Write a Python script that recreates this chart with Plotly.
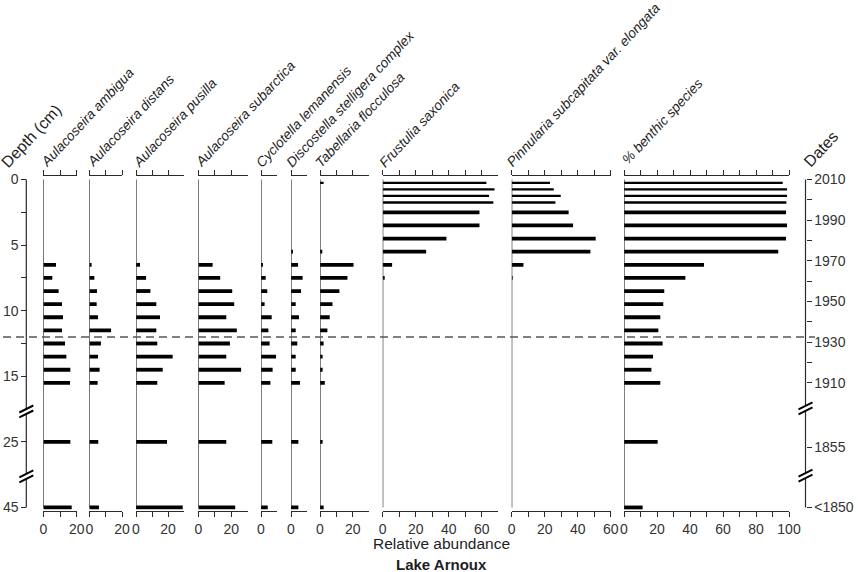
import plotly.graph_objects as go

# sample depths (cm) and diatom relative abundances (%)
depth = [0.25, 0.75, 1.25, 1.75, 2.5, 3.5, 4.5, 5.5, 6.5, 7.5,
         8.5, 9.5, 10.5, 11.5, 12.5, 13.5, 14.5, 15.5, 25, 45]

ambigua = [0, 0, 0, 0, 0, 0, 0, 0, 7.6, 5.4,
           9.2, 11.2, 11.8, 11.2, 13.0, 13.8, 16.2, 16.0, 16.2, 17.0]
distans = [0, 0, 0, 0, 0, 0, 0, 0, 1.4, 3.1,
           4.7, 4.5, 5.3, 13.3, 7.1, 5.3, 6.3, 5.1, 5.5, 5.9]
pusilla = [0, 0, 0, 0, 0, 0, 0, 0, 2.5, 6.3,
           9.0, 12.7, 15.0, 12.7, 13.3, 22.9, 16.7, 13.3, 19.4, 29.2]
subarctica = [0, 0, 0, 0, 0, 0, 0, 0, 8.7, 13.3,
              20.6, 21.8, 17.0, 23.4, 19.2, 17.0, 26.0, 16.0, 17.0, 22.4]
cyclotella = [0, 0, 0, 0, 0, 0, 0, 0, 1.0, 3.0,
              4.0, 2.3, 6.8, 4.7, 5.5, 9.6, 7.4, 6.0, 7.2, 4.3]
discostella = [0, 0, 0, 0, 0, 0, 0, 1.0, 4.5, 7.4,
               6.4, 3.0, 5.1, 3.0, 4.0, 3.0, 3.0, 5.7, 4.7, 4.7]
tabellaria = [2.2, 0, 0, 0, 0, 0, 0, 1.4, 20.4, 16.7,
              11.8, 7.6, 5.9, 4.5, 2.2, 1.6, 1.6, 2.9, 1.6, 2.2]
frustulia = [62.8, 67.7, 64.4, 67.0, 58.6, 58.6, 38.6, 26.3, 5.7, 1.2,
             0, 0, 0, 0, 0, 0, 0, 0, 0, 0]
pinnularia = [23.2, 25.5, 29.7, 26.5, 34.5, 37.2, 50.9, 47.7, 7.1, 0.6,
              0, 0, 0, 0, 0, 0, 0, 0, 0, 0]
benthic = [96.2, 98.8, 98.8, 98.4, 98.2, 98.8, 98.2, 93.5, 48.5, 37.2,
           24.4, 23.8, 22.0, 20.8, 23.4, 17.6, 16.6, 22.0, 20.4, 11.3]

titles = ["Aulacoseira ambigua", "Aulacoseira distans", "Aulacoseira pusilla",
          "Aulacoseira subarctica", "Cyclotella lemanensis",
          "Discostella stelligera complex", "Tabellaria flocculosa",
          "Frustulia saxonica", "Pinnularia subcapitata var. elongata",
          "% benthic species"]
series = [ambigua, distans, pusilla, subarctica, cyclotella, discostella,
          tabellaria, frustulia, pinnularia, benthic]
x_max = [20, 20, 30, 30, 10, 10, 30, 70, 60, 100]
tick_max = [20, 20, 20, 20, 0, 0, 20, 60, 60, 100]

depth_ticks = [0, 2.5, 5, 7.5, 10, 12.5, 15, 25, 45]
depth_labels = ["0", "", "5", "", "10", "", "15", "25", "45"]

date_years = [2010, 2000, 1990, 1980, 1970, 1960, 1950, 1940, 1930, 1920, 1910]
date_labels = ["2010", "", "1990", "", "1970", "", "1950", "", "1930", "", "1910"]
old_date_depths = [26.6, 45]
old_date_labels = ["1855", "<1850"]
core_boundary_depth = 12

# ---- page geometry (pixels) ----
W, H = 858, 572
T, B = 175.5, 511.5
panel_left = [43.3, 89.3, 136, 198.3, 261, 291, 320, 382.7, 511.7, 624]
panel_right = [76.7, 122, 184, 247.7, 276.7, 306.7, 369.3, 498.3, 610.7, 789]
title_start = [(42.7, 165.7), (89.3, 165.7), (135, 165.7), (197.7, 165.7),
               (257.7, 165.7), (288.3, 165.7), (317.3, 165.7), (381, 165.7),
               (509, 165.7), (624, 162.5)]
depth_axis_x = 26.3
date_axis_x = 805.5

FONT = "Liberation Sans, Arial, sans-serif"
LINE = "#2a2a2a"
TEXT = "#1e1e1e"


def px(x):
    return x / W


def py(y):
    return (B - y) / (B - T)


def pos(d):
    # broken depth axis: 0-16.5 cm linear, then compressed segments to 25 and 45 cm
    if d <= 16.5:
        return d
    if d <= 25:
        return 16.5 + (d - 16.5) * 3.5 / 8.5
    return 20 + (d - 25) * 5 / 20


def ypix(p):
    return 179 + p * 13.16


yvals = [pos(d) for d in depth]
bar_w = [0.18 if d < 2 else 0.29 for d in depth]
y_range = [pos(45) + 0.27, -0.27]

fig = go.Figure()
layout = dict(
    width=W, height=H, showlegend=False, barmode="overlay", autosize=False,
    margin=dict(l=0, r=0, t=T, b=H - B, pad=0),
    paper_bgcolor="white", plot_bgcolor="white",
    font=dict(family=FONT, color=TEXT, size=14),
)

shapes = []
annotations = []

for i, vals in enumerate(series):
    n = "" if i == 0 else str(i + 1)
    fig.add_trace(go.Bar(
        x=vals, y=yvals, width=bar_w, orientation="h", base=0,
        marker=dict(color="black", line=dict(width=0)),
        xaxis="x" + n, yaxis="y", hoverinfo="x+y",
    ))
    tv = list(range(0, tick_max[i] + 1, 10))
    layout["xaxis" + n] = dict(
        domain=[px(panel_left[i]), px(panel_right[i])],
        range=[0, x_max[i]], anchor="y", automargin=False,
        showline=True, linecolor=LINE, linewidth=1, mirror="ticks",
        ticks="outside", ticklen=5, tickwidth=1, tickcolor=LINE,
        tickvals=tv, ticktext=[str(v) if v % 20 == 0 else "" for v in tv],
        showgrid=False, zeroline=False,
        tickfont=dict(size=14, color="#333333"),
    )
    # zero line of each panel
    shapes.append(dict(type="line", xref="x" + n, yref="y", x0=0, x1=0,
                       y0=pos(0), y1=pos(45), line=dict(color=LINE, width=1.2)))
    sx, sy = title_start[i]
    annotations.append(dict(
        text="<i>%s</i>" % titles[i], x=px(sx - 7.5), y=py(sy + 6.4),
        xref="paper", yref="paper", xanchor="left", yanchor="bottom",
        textangle=-47, showarrow=False, font=dict(size=13.7, color=TEXT),
    ))

# dates axis needs a trace to be drawn
fig.add_trace(go.Scatter(x=[0], y=[0], mode="none", xaxis="x", yaxis="y2",
                         hoverinfo="skip"))

layout["yaxis"] = dict(
    range=y_range, autorange=False, anchor="free", position=px(depth_axis_x),
    automargin=False, showline=False, showgrid=False, zeroline=False,
    ticks="outside", ticklen=5, tickwidth=1, tickcolor=LINE,
    tickvals=[pos(d) for d in depth_ticks], ticktext=depth_labels,
    tickfont=dict(size=14, color="#333333"),
)
date_depths = [(2010 - yr) * 0.155 for yr in date_years] + old_date_depths
layout["yaxis2"] = dict(
    range=y_range, autorange=False, overlaying="y", side="right",
    anchor="free", position=px(date_axis_x), automargin=False,
    showline=False, showgrid=False, zeroline=False,
    ticks="outside", ticklen=5, tickwidth=1, tickcolor=LINE,
    tickvals=[pos(d) for d in date_depths], ticktext=date_labels + old_date_labels,
    tickfont=dict(size=14, color="#333333"),
)

# vertical axis lines with break marks
for ax_x, breaks in [(depth_axis_x, [411.7, 476.7]), (date_axis_x, [408.5, 476])]:
    edges = [ypix(pos(0))]
    for b in breaks:
        edges += [b - 2.5, b + 2.5]
    edges.append(ypix(pos(45)))
    for k in range(0, len(edges), 2):
        shapes.append(dict(type="line", xref="paper", yref="paper",
                           x0=px(ax_x), x1=px(ax_x), y0=py(edges[k]), y1=py(edges[k + 1]),
                           line=dict(color=LINE, width=1.2)))
    for b in breaks:
        for d in (-2.5, 2.5):
            shapes.append(dict(type="line", xref="paper", yref="paper",
                               x0=px(ax_x - 7), y0=py(b + d + 3.5),
                               x1=px(ax_x + 7), y1=py(b + d - 3.5),
                               line=dict(color="black", width=2)))

# boundary line
shapes.append(dict(type="line", xref="paper", yref="y", x0=px(3), x1=px(815),
                   y0=pos(core_boundary_depth), y1=pos(core_boundary_depth),
                   line=dict(color="#555555", width=1.5, dash="8px,5px")))

annotations += [
    dict(text="Depth (cm)", x=px(3 - 7), y=py(166 + 7), xref="paper", yref="paper",
         xanchor="left", yanchor="bottom", textangle=-47, showarrow=False,
         font=dict(size=16, color=TEXT)),
    dict(text="Dates", x=px(804 - 6), y=py(165 + 7), xref="paper", yref="paper",
         xanchor="left", yanchor="bottom", textangle=-47, showarrow=False,
         font=dict(size=16, color=TEXT)),
    dict(text="Relative abundance", x=px(441), y=py(544), xref="paper", yref="paper",
         xanchor="center", yanchor="middle", showarrow=False,
         font=dict(size=15.5, color=TEXT)),
    dict(text="<b>Lake Arnoux</b>", x=px(441.7), y=py(565), xref="paper", yref="paper",
         xanchor="center", yanchor="middle", showarrow=False,
         font=dict(size=15, color=TEXT)),
]

layout["shapes"] = shapes
layout["annotations"] = annotations
fig.update_layout(**layout)

# page has a default 8px body margin; drop it so the figure sits at the window origin
fig.write_html("out.html", config={"displayModeBar": False},
               post_script="document.body.style.margin='0';")
